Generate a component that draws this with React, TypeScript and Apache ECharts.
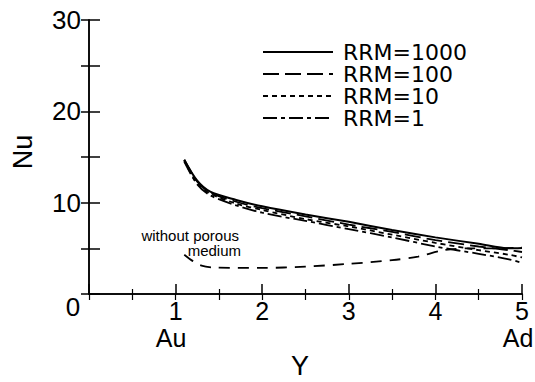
import React, { useEffect, useRef } from "react";
import * as echarts from "echarts";

const X_RRM = [1.1, 1.25, 1.4, 1.7, 2.0, 2.5, 3.0, 3.5, 4.0, 4.5, 4.85, 5.0];
const RRM1000 = [14.7, 12.4, 11.2, 10.3, 9.6, 8.7, 7.9, 7.0, 6.2, 5.5, 5.0, 5.05];
const RRM100 = [14.7, 12.3, 11.1, 10.1, 9.4, 8.5, 7.6, 6.8, 5.9, 5.2, 4.8, 4.6];
const RRM10 = [14.6, 12.1, 11.0, 9.9, 9.2, 8.2, 7.4, 6.5, 5.6, 4.8, 4.3, 4.0];
const RRM1 = [14.5, 12.0, 10.8, 9.7, 8.9, 8.0, 7.1, 6.2, 5.2, 4.4, 3.8, 3.4];

const X_WITHOUT = [1.1, 1.2, 1.3, 1.45, 2.0, 2.5, 3.0, 3.5, 3.8, 4.1, 4.4, 4.7, 5.0];
const WITHOUT = [4.3, 3.6, 3.1, 2.9, 2.85, 3.0, 3.3, 3.7, 4.1, 4.8, 5.0, 5.0, 5.1];

const SERIES_NAMES = ["RRM=1000", "RRM=100", "RRM=10", "RRM=1"];
const X_TICK_LABELS = ["", "1", "2", "3", "4", "5"];

const FONT = "'Liberation Sans', Arial, sans-serif";

const pairs = (xs: number[], ys: number[]) => xs.map((x, i) => [x, ys[i]]);

export default function App() {
  const ref = useRef<HTMLDivElement>(null);
  useEffect(() => {
    if (!ref.current) return;
    const chart = echarts.init(ref.current, undefined, { renderer: "svg" });
    const axisLine = { show: true, lineStyle: { color: "#000", width: 1.5 } };
    const mk = (name: string, ys: number[], type: any, width: number) => ({
      name,
      type: "line",
      data: pairs(X_RRM, ys),
      smooth: 0.3,
      symbol: "none",
      lineStyle: { color: "#000", width, type },
      itemStyle: { color: "#000" },
    });
    chart.setOption({
      animation: false,
      backgroundColor: "#fff",
      grid: { left: 89, right: 13, top: 20, bottom: 88 },
      legend: {
        orient: "vertical",
        left: 257,
        top: 36,
        itemWidth: 70,
        itemHeight: 14,
        itemGap: 0,
        itemStyle: { opacity: 0 },
        data: SERIES_NAMES,
        textStyle: {
          fontFamily: "'DejaVu Sans', sans-serif",
          fontSize: 22,
          color: "#000",
          padding: [0, 0, 0, 5],
        },
      },
      xAxis: [
        {
          type: "value",
          min: 0,
          max: 5,
          interval: 1,
          position: "bottom",
          axisLine,
          axisTick: { inside: true, length: 10, lineStyle: { color: "#000", width: 1.5 } },
          minorTick: { show: true, splitNumber: 2, length: 5, lineStyle: { color: "#000", width: 1.2 } },
          splitLine: { show: false },
          axisLabel: {
            margin: 7,
            fontFamily: FONT,
            fontSize: 25,
            lineHeight: 20,
            color: "#000",
            formatter: (v: number) => X_TICK_LABELS[Math.round(v)] ?? "",
          },
        },
        {
          type: "value",
          min: 0,
          max: 5,
          interval: 0.5,
          position: "top",
          axisLine,
          axisTick: { inside: true, length: 6, lineStyle: { color: "#000", width: 1.2 } },
          splitLine: { show: false },
          axisLabel: { show: false },
        },
      ],
      yAxis: [
        {
          type: "value",
          min: 0,
          max: 30,
          interval: 5,
          position: "left",
          axisLine,
          axisTick: { inside: true, length: 11, lineStyle: { color: "#000", width: 1.5 } },
          splitLine: { show: false },
          axisLabel: {
            margin: 8,
            fontFamily: FONT,
            fontSize: 26,
            color: "#000",
            formatter: (v: number) => (v !== 0 && v % 10 === 0 ? String(v) : ""),
          },
        },
        {
          type: "value",
          min: 0,
          max: 30,
          interval: 5,
          position: "right",
          axisLine,
          axisTick: { inside: true, length: 8, lineStyle: { color: "#000", width: 1.5 } },
          splitLine: { show: false },
          axisLabel: { show: false },
        },
      ],
      series: [
        mk("RRM=1000", RRM1000, "solid", 2),
        mk("RRM=100", RRM100, [16, 6], 1.8),
        mk("RRM=10", RRM10, [5, 4], 1.8),
        mk("RRM=1", RRM1, [14, 4, 4, 4], 1.8),
        {
          name: "without porous medium",
          type: "line",
          data: pairs(X_WITHOUT, WITHOUT),
          smooth: 0.3,
          symbol: "none",
          lineStyle: { color: "#000", width: 1.8, type: [11, 8] },
        },
      ],
      graphic: [
        { type: "text", x: 73, y: 307, style: { text: "0", font: `26px ${FONT}`, fill: "#000", align: "center", verticalAlign: "middle", lineHeight: 20 } },
        { type: "text", x: 171, y: 338, style: { text: "Au", font: `25px ${FONT}`, fill: "#000", align: "center", verticalAlign: "middle", lineHeight: 20 } },
        { type: "text", x: 518, y: 338, style: { text: "Ad", font: `25px ${FONT}`, fill: "#000", align: "center", verticalAlign: "middle", lineHeight: 20 } },
        { type: "text", x: 300, y: 366, style: { text: "Y", font: `27px ${FONT}`, fill: "#000", align: "center", verticalAlign: "middle" } },
        { type: "text", x: 23, y: 152, rotation: Math.PI / 2, style: { text: "Nu", font: `27px ${FONT}`, fill: "#000", align: "center", verticalAlign: "middle" } },
        { type: "text", x: 239, y: 235, style: { text: "without porous", font: `15px ${FONT}`, fill: "#000", align: "right", verticalAlign: "middle" } },
        { type: "text", x: 241, y: 250.5, style: { text: "medium", font: `15px ${FONT}`, fill: "#000", align: "right", verticalAlign: "middle" } },
      ],
    });
    return () => chart.dispose();
  }, []);
  return <div ref={ref} style={{ width: 535, height: 382, position: "absolute", left: 0, top: 0 }} />;
}
